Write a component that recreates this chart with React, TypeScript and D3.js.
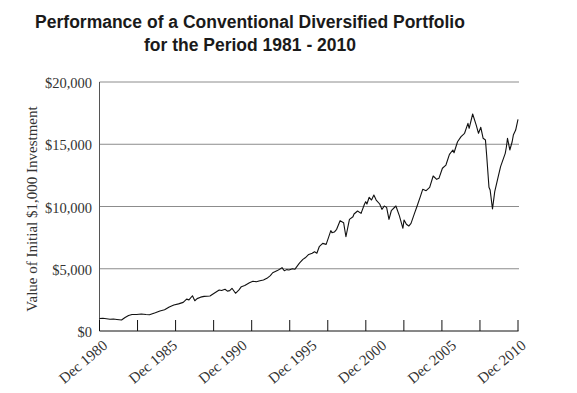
import React, { useEffect, useRef } from 'react';
import * as d3 from 'd3';

// portfolio value (month, dollars)
const months = [
  '1980-12', '1981-03', '1981-06', '1981-09', '1981-12', '1982-03', '1982-07', '1982-10',
  '1983-01', '1983-04', '1983-08', '1983-12', '1984-04', '1984-07', '1984-12', '1985-04',
  '1985-08', '1985-12', '1986-04', '1986-08', '1986-12', '1987-03', '1987-05', '1987-08',
  '1987-10', '1987-12', '1988-03', '1988-06', '1988-11', '1989-03', '1989-07', '1989-09',
  '1989-12', '1990-02', '1990-04', '1990-06', '1990-09', '1990-12', '1991-02', '1991-05',
  '1991-09', '1991-12', '1992-03', '1992-06', '1992-09', '1992-12', '1993-03', '1993-05',
  '1993-09', '1994-01', '1994-03', '1994-05', '1994-07', '1994-10', '1994-12', '1995-04',
  '1995-07', '1995-09', '1995-12', '1996-03', '1996-05', '1996-07', '1996-09', '1996-12',
  '1997-03', '1997-05', '1997-07', '1997-08', '1997-10', '1997-12', '1998-03', '1998-06',
  '1998-08', '1998-10', '1998-11', '1999-02', '1999-03', '1999-06', '1999-09', '1999-12',
  '2000-01', '2000-02', '2000-04', '2000-06', '2000-08', '2000-10', '2001-01', '2001-03',
  '2001-05', '2001-07', '2001-09', '2001-11', '2002-03', '2002-06', '2002-09', '2002-10',
  '2002-12', '2003-02', '2003-04', '2003-07', '2003-09', '2003-12', '2004-02', '2004-05',
  '2004-08', '2004-11', '2005-02', '2005-04', '2005-07', '2005-10', '2006-01', '2006-04',
  '2006-05', '2006-08', '2006-11', '2007-02', '2007-05', '2007-06', '2007-09', '2007-12',
  '2008-02', '2008-04', '2008-06', '2008-08', '2008-09', '2008-11', '2008-12', '2009-02',
  '2009-04', '2009-07', '2009-09', '2010-01', '2010-02', '2010-03', '2010-05', '2010-07',
  '2010-08', '2010-10', '2010-12',
];
const values = [
  1000, 1020, 990, 940, 960, 930, 880, 1080,
  1250, 1330, 1320, 1360, 1320, 1300, 1460, 1600,
  1700, 1930, 2090, 2180, 2300, 2560, 2500, 2830,
  2430, 2600, 2720, 2780, 2810, 3050, 3290, 3250,
  3350, 3200, 3240, 3430, 3030, 3300, 3560, 3650,
  3880, 4000, 3950, 4040, 4100, 4230, 4450, 4680,
  4850, 5085, 4840, 4930, 4900, 5000, 4955, 5450,
  5750, 5880, 6150, 6250, 6370, 6250, 6770, 7040,
  6960, 7500, 8060, 7900, 7950, 8170, 8860, 8700,
  7570, 8500, 8970, 9180, 9400, 9640, 9450, 10200,
  10390, 10200, 10740, 10520, 10920, 10520, 10200, 9770,
  10040, 9930, 8970, 9660, 10040, 9250, 8250, 8920,
  8570, 8430, 8650, 9450, 9980, 10790, 11380, 11270,
  11540, 12450, 12180, 12260, 13070, 13330, 14190, 14540,
  14320, 15200, 15610, 15880, 16680, 16280, 17430, 16550,
  15880, 16360, 15480, 15340, 14140, 11540, 11330, 9800,
  11190, 12390, 13200, 14270, 14800, 15480, 14540, 15200,
  15740, 16140, 17000,
];

const yTicks = [0, 5000, 10000, 15000, 20000];
const xLabels = ['Dec 1980', 'Dec 1985', 'Dec 1990', 'Dec 1995', 'Dec 2000', 'Dec 2005', 'Dec 2010'];
const titleLines = ['Performance of a Conventional Diversified Portfolio', 'for the Period 1981 - 2010'];
const yTitle = 'Value of Initial $1,000 Investment';

function App() {
  const ref = useRef<SVGSVGElement>(null);

  useEffect(() => {
    const svg = d3.select(ref.current);
    svg.selectAll('*').remove();

    const width = 577;
    const height = 393;
    const margin = { top: 82, right: 59, bottom: 62, left: 99.5 };
    const parse = d3.timeParse('%Y-%m');
    const data = months.map((m, i) => ({ date: parse(m) as Date, value: values[i] }));

    const x = d3
      .scaleTime()
      .domain([parse('1980-12') as Date, parse('2010-12') as Date])
      .range([margin.left, width - margin.right]);
    const y = d3
      .scaleLinear()
      .domain([0, 20000])
      .range([height - margin.bottom, margin.top]);

    const serif = '"Liberation Serif", "Times New Roman", serif';

    // title
    svg.append('g')
      .selectAll('text')
      .data(titleLines)
      .join('text')
      .attr('x', 250)
      .attr('y', (d, i) => 28 + i * 23)
      .attr('text-anchor', 'middle')
      .attr('font-family', '"Liberation Sans", Arial, sans-serif')
      .attr('font-weight', 'bold')
      .attr('font-size', 17.5)
      .attr('fill', '#1a1a1a')
      .text((d) => d);

    // gridlines
    svg.append('g')
      .selectAll('line')
      .data(yTicks.slice(1))
      .join('line')
      .attr('x1', x.range()[0])
      .attr('x2', x.range()[1] + 1)
      .attr('y1', (d) => y(d))
      .attr('y2', (d) => y(d))
      .attr('stroke', '#8c8c8c')
      .attr('stroke-width', 1);

    // y labels
    svg.append('g')
      .selectAll('text')
      .data(yTicks)
      .join('text')
      .attr('x', 92)
      .attr('y', (d) => y(d) + 6)
      .attr('text-anchor', 'end')
      .attr('font-family', serif)
      .attr('font-size', 14.5)
      .attr('fill', '#333')
      .text((d) => '$' + d3.format(',')(d));

    svg.append('text')
      .attr('transform', `translate(37,209) rotate(-90)`)
      .attr('text-anchor', 'middle')
      .attr('font-family', serif)
      .attr('font-size', 15)
      .attr('fill', '#333')
      .text(yTitle);

    // axes lines
    svg.append('line')
      .attr('x1', x.range()[0])
      .attr('x2', x.range()[0])
      .attr('y1', y.range()[1])
      .attr('y2', y.range()[0])
      .attr('stroke', '#555');
    svg.append('line')
      .attr('x1', x.range()[0])
      .attr('x2', x.range()[1] + 0.5)
      .attr('y1', y.range()[0])
      .attr('y2', y.range()[0])
      .attr('stroke', '#111');

    // tick marks (11 even intervals, not aligned with labels)
    const tickPos = d3.range(12).map((i) => d3.interpolateNumber(x.range()[0], x.range()[1])(i / 11));
    svg.append('g')
      .selectAll('line')
      .data(tickPos)
      .join('line')
      .attr('x1', (d) => d)
      .attr('x2', (d) => d)
      .attr('y1', y.range()[0] - 11)
      .attr('y2', y.range()[0])
      .attr('stroke', '#111');

    // x labels
    const labelPos = xLabels.map((d, i) => d3.interpolateNumber(x.range()[0], x.range()[1])(i / (xLabels.length - 1)));
    svg.append('g')
      .selectAll('text')
      .data(xLabels)
      .join('text')
      .attr('transform', (d, i) => `translate(${labelPos[i] + 9},${y.range()[0] + 16}) rotate(-40)`)
      .attr('text-anchor', 'end')
      .attr('font-family', serif)
      .attr('font-size', 15)
      .attr('fill', '#333')
      .text((d) => d);

    const line = d3
      .line<{ date: Date; value: number }>()
      .x((d) => x(d.date))
      .y((d) => y(d.value));

    svg.append('path')
      .datum(data)
      .attr('fill', 'none')
      .attr('stroke', '#111')
      .attr('stroke-width', 1.1)
      .attr('stroke-linejoin', 'round')
      .attr('d', line);
  }, []);

  return (
    <svg
      ref={ref}
      width={577}
      height={393}
      style={{ position: 'absolute', left: 0, top: 0, background: '#fff' }}
    />
  );
}

export default App;
